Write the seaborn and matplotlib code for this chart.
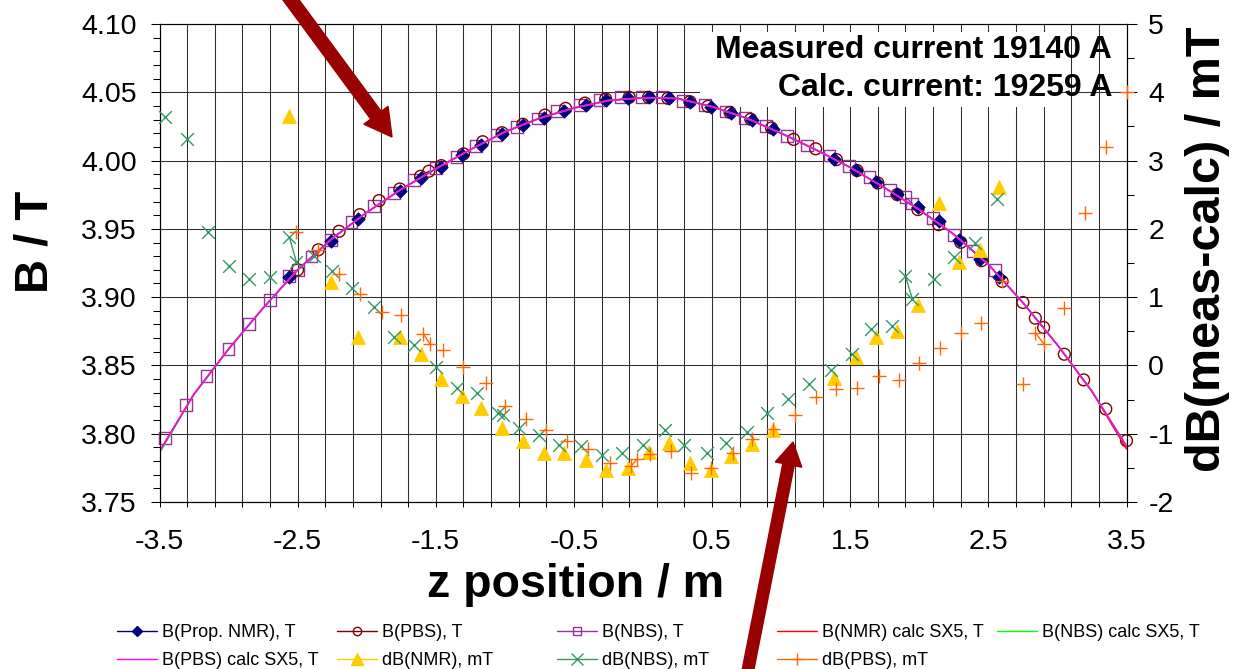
import numpy as np
import pandas as pd
import matplotlib
matplotlib.use("Agg")
import matplotlib.pyplot as plt
import seaborn as sns
from matplotlib.lines import Line2D
from matplotlib.patches import FancyArrow, Rectangle
from matplotlib.transforms import IdentityTransform
from matplotlib.ticker import FixedLocator

# ---------------- measured field B (T) ----------------
z_nmr = [-2.56, -2.26, -2.06, -1.76, -1.61, -1.46, -1.31, -1.17, -1.02, -0.87,
         -0.72, -0.57, -0.41, -0.27, -0.11, 0.04, 0.19, 0.34, 0.49, 0.64,
         0.79, 0.94, 1.38, 1.54, 1.69, 1.84, 1.99, 2.14, 2.29, 2.44, 2.58]
b_nmr = [3.915, 3.941, 3.957, 3.9775, 3.987, 3.995, 4.004, 4.0115, 4.0197, 4.026,
         4.0315, 4.0365, 4.041, 4.0443, 4.0456, 4.0463, 4.0456, 4.0426, 4.0389, 4.0350,
         4.0295, 4.0232, 4.0013, 3.9929, 3.9844, 3.9756, 3.966, 3.956, 3.942, 3.928, 3.915]

z_pbs = [-2.50, -2.35, -2.20, -2.05, -1.91, -1.76, -1.61, -1.55, -1.46, -1.30,
         -1.16, -1.02, -0.87, -0.71, -0.56, -0.42, -0.27, -0.10, 0.04, 0.18,
         0.34, 0.47, 0.63, 0.78, 0.93, 1.09, 1.25, 1.40, 1.55, 1.70,
         1.84, 1.99, 2.14, 2.30, 2.45, 2.60, 2.75, 2.84, 2.90, 3.05,
         3.19, 3.35, 3.50]
b_pbs = [3.920, 3.9347, 3.9482, 3.9604, 3.9707, 3.9792, 3.9885, 3.9922, 3.9963, 4.0049,
         4.0138, 4.0204, 4.0266, 4.0333, 4.0382, 4.0421, 4.0451, 4.0463, 4.0463, 4.0456,
         4.0431, 4.0397, 4.0352, 4.0303, 4.0239, 4.0155, 4.0086, 4.0007, 3.9927, 3.9836,
         3.9751, 3.9641, 3.9531, 3.9401, 3.9267, 3.9115, 3.8961, 3.8846, 3.8778, 3.8582,
         3.8394, 3.8181, 3.7949]

z_nbs = [-3.46, -3.31, -3.16, -3.00, -2.85, -2.70, -2.56, -2.50, -2.40, -2.26,
         -2.11, -1.95, -1.80, -1.66, -1.50, -1.35, -1.21, -1.06, -0.91, -0.76,
         -0.62, -0.46, -0.31, -0.16, -0.01, 0.14, 0.29, 0.45, 0.60, 0.74,
         0.89, 1.04, 1.19, 1.35, 1.49, 1.64, 1.79, 1.90, 1.95, 2.10,
         2.25, 2.39, 2.55]
b_nbs = [3.797, 3.821, 3.842, 3.862, 3.8804, 3.898, 3.9156, 3.920, 3.9298, 3.942,
         3.955, 3.9665, 3.9763, 3.986, 3.9946, 4.0027, 4.0106, 4.0185, 4.0246, 4.0308,
         4.0365, 4.0406, 4.0443, 4.0463, 4.0463, 4.0463, 4.0438, 4.0406, 4.0360, 4.0310,
         4.0254, 4.018, 4.011, 4.0037, 3.9958, 3.988, 3.9782, 3.9733, 3.9685, 3.958,
         3.9457, 3.9335, 3.9196]

# ---------------- calculated field, SX5 model (T) ----------------
z_calc = [-3.50, -3.25, -3.00, -2.75, -2.50, -2.25, -2.00, -1.75, -1.50, -1.25,
          -1.00, -0.75, -0.50, -0.25, 0.00, 0.25, 0.50, 0.75, 1.00, 1.25,
          1.50, 1.75, 2.00, 2.25, 2.50, 2.75, 3.00, 3.25, 3.50]
b_calc_nmr = [3.787, 3.829, 3.862, 3.892, 3.920, 3.943, 3.962, 3.979, 3.994, 4.008,
              4.021, 4.031, 4.0385, 4.044, 4.046, 4.0455, 4.0395, 4.031, 4.020, 4.008,
              3.995, 3.980, 3.964, 3.946, 3.924, 3.896, 3.865, 3.831, 3.789]
b_calc_nbs = [3.786, 3.829, 3.862, 3.892, 3.920, 3.943, 3.962, 3.979, 3.994, 4.008,
              4.021, 4.031, 4.0385, 4.044, 4.046, 4.0455, 4.0395, 4.031, 4.020, 4.008,
              3.995, 3.980, 3.964, 3.946, 3.924, 3.896, 3.865, 3.831, 3.791]
b_calc_pbs = [3.787, 3.829, 3.862, 3.892, 3.920, 3.943, 3.962, 3.979, 3.994, 4.008,
              4.021, 4.031, 4.0385, 4.044, 4.046, 4.0455, 4.0395, 4.031, 4.020, 4.008,
              3.995, 3.980, 3.964, 3.946, 3.924, 3.896, 3.865, 3.831, 3.791]

# ---------------- differences meas - calc (mT) ----------------
db_nmr = [3.65, 1.22, 0.41, 0.41, 0.17, -0.20, -0.455, -0.62, -0.92, -1.11,
          -1.28, -1.28, -1.39, -1.53, -1.50, -1.27, -1.13, -1.43, -1.53, -1.33,
          -1.15, -0.94, -0.19, 0.13, 0.42, 0.50, 0.88, 2.38, 1.51, 1.69, 2.61]

z_db_nbs = [-3.46, -3.30, -3.15, -3.00, -2.85, -2.70, -2.56, -2.51, -2.38, -2.25,
            -2.11, -1.95, -1.80, -1.66, -1.50, -1.35, -1.20, -1.05, -1.01, -0.90,
            -0.75, -0.61, -0.45, -0.30, -0.15, 0.00, 0.16, 0.30, 0.46, 0.60,
            0.75, 0.90, 1.05, 1.20, 1.36, 1.51, 1.65, 1.80, 1.90, 1.95,
            2.11, 2.25, 2.40, 2.56]
db_nbs = [3.64, 3.32, 1.96, 1.46, 1.26, 1.30, 1.88, 1.52, 1.60, 1.38,
          1.13, 0.85, 0.42, 0.30, -0.02, -0.33, -0.41, -0.70, -0.72, -0.92,
          -1.02, -1.16, -1.18, -1.31, -1.28, -1.16, -0.94, -1.16, -1.28, -1.13,
          -0.98, -0.69, -0.49, -0.27, -0.07, 0.17, 0.53, 0.58, 1.31, 0.97,
          1.26, 1.59, 1.79, 2.44]

z_db_pbs = [-2.51, -2.35, -2.20, -2.05, -1.89, -1.75, -1.59, -1.54, -1.45, -1.30,
            -1.14, -1.00, -0.85, -0.70, -0.55, -0.40, -0.24, -0.09, -0.04, 0.05,
            0.20, 0.35, 0.49, 0.65, 0.79, 0.94, 1.10, 1.25, 1.40, 1.55,
            1.71, 1.85, 2.00, 2.15, 2.30, 2.45, 2.60, 2.75, 2.84, 2.90,
            3.05, 3.20, 3.35, 3.50]
db_pbs = [1.95, 1.69, 1.34, 1.04, 0.78, 0.74, 0.46, 0.31, 0.23, -0.02,
          -0.26, -0.59, -0.78, -0.94, -1.11, -1.23, -1.43, -1.48, -1.37, -1.29,
          -1.26, -1.57, -1.50, -1.28, -1.08, -0.93, -0.73, -0.46, -0.34, -0.33,
          -0.15, -0.22, 0.04, 0.25, 0.48, 0.62, 1.23, -0.27, 0.48, 0.32,
          0.84, 2.23, 3.20, 4.00]

# ---------------- axis ticks and texts ----------------
x_tick_labels = ["-3.5", "-2.5", "-1.5", "-0.5", "0.5", "1.5", "2.5", "3.5"]
b_tick_labels = ["3.75", "3.80", "3.85", "3.90", "3.95", "4.00", "4.05", "4.10"]
db_tick_labels = ["-2", "-1", "0", "1", "2", "3", "4", "5"]
current_notes = ["Measured current 19140 A", "Calc. current: 19259 A"]

# ---------------- styling ----------------
C_NMR, C_PBS, C_NBS = "#000080", "#800000", "#993399"
C_CALC_NMR, C_CALC_NBS, C_CALC_PBS = "#FF0000", "#00FF00", "#FF00FF"
C_DNMR, C_DNBS, C_DPBS = "#FFCC00", "#339966", "#FF6600"
C_ARROW = "#990000"

sns.set_theme(style="white")
plt.rcParams["font.family"] = ["Liberation Sans", "DejaVu Sans"]
plt.rcParams["axes.unicode_minus"] = False
for key in ("text.color", "axes.labelcolor", "xtick.color", "ytick.color"):
    plt.rcParams[key] = "black"

W, H = 1234, 669
fig = plt.figure(figsize=(W / 100, H / 100), dpi=100)
fig.patch.set_facecolor("white")
ax_l, ax_r, ax_t, ax_b = 159.5, 1126.5, 24.0, 502.0
ax = fig.add_axes([ax_l / W, 1 - ax_b / H, (ax_r - ax_l) / W, (ax_b - ax_t) / H])
ax2 = ax.twinx()


def joined(z, v, gap=0.08):
    """Points closer than `gap` along z are connected by a line segment."""
    df = pd.DataFrame({"z": z, "v": v})
    df["seg"] = (df["z"].diff() > gap).cumsum()
    return df


def draw_series(axis, z, v, color, marker, size, filled, lw=1.0):
    df = joined(z, v)
    sns.lineplot(data=df, x="z", y="v", units="seg", estimator=None, sort=False,
                 color=color, linewidth=lw, ax=axis, legend=False, zorder=2)
    if filled:
        sns.scatterplot(x=z, y=v, marker=marker, s=size ** 2, color=color,
                        edgecolor=color, linewidth=0.6, ax=axis, legend=False,
                        zorder=3)
    elif marker in ("x", "+"):
        sns.scatterplot(x=z, y=v, marker=marker, s=size ** 2, color=color,
                        linewidth=1.0, ax=axis, legend=False, zorder=3)
    else:
        sns.scatterplot(x=z, y=v, marker=marker, s=size ** 2, color=color,
                        facecolors="none", edgecolor=color, linewidth=1.0,
                        ax=axis, legend=False, zorder=3)


# measured B on the left axis
draw_series(ax, z_nbs, b_nbs, C_NBS, "s", 8.5, False)
draw_series(ax, z_pbs, b_pbs, C_PBS, "o", 8.5, False)
draw_series(ax, z_nmr, b_nmr, C_NMR, "D", 6.8, True)

# calculated curves
for zc, bc, col in [(z_calc, b_calc_nmr, C_CALC_NMR),
                    (z_calc, b_calc_nbs, C_CALC_NBS),
                    (z_calc, b_calc_pbs, C_CALC_PBS)]:
    sns.lineplot(x=zc, y=bc, color=col, linewidth=1.2, ax=ax, legend=False,
                 zorder=4, sort=False)

# differences on the right axis
draw_series(ax2, z_nmr, db_nmr, C_DNMR, "^", 10.0, True)
draw_series(ax2, z_db_nbs, db_nbs, C_DNBS, "x", 9.2, False)
draw_series(ax2, z_db_pbs, db_pbs, C_DPBS, "+", 9.5, False)

# markers sitting on the frame stay whole
for a in (ax, ax2):
    for coll in a.collections:
        coll.set_clip_on(False)

# ---------------- axes ----------------
x_major = [float(s) for s in x_tick_labels]
b_major = [float(s) for s in b_tick_labels]
db_major = [float(s) for s in db_tick_labels]

ax.set_xlim(x_major[0], x_major[-1])
ax.set_ylim(b_major[0], b_major[-1])
ax2.set_ylim(db_major[0], db_major[-1])

ax.set_xticks(x_major)
ax.set_xticklabels(x_tick_labels)
ax.xaxis.set_minor_locator(FixedLocator(np.round(np.arange(x_major[0], x_major[-1] + 0.01, 0.2), 2)))
ax.set_yticks(b_major)
ax.set_yticklabels(b_tick_labels)
ax.yaxis.set_minor_locator(FixedLocator(np.round(np.arange(b_major[0], b_major[-1] + 0.001, 0.01), 3)))
ax2.set_yticks(db_major)
ax2.set_yticklabels(db_tick_labels)
ax2.yaxis.set_minor_locator(FixedLocator(np.arange(db_major[0], db_major[-1] + 0.01, 0.5)))

ax.set_xlabel("")
ax.set_ylabel("")
ax2.set_ylabel("")

ax.xaxis.grid(True, which="both", color="#2e2e2e", linewidth=0.75)
ax.yaxis.grid(True, which="major", color="#2e2e2e", linewidth=0.75)
ax.set_axisbelow(True)

ax.tick_params(axis="x", which="both", direction="out", length=3.6, width=0.75,
               color="black", bottom=True, labelsize=20.5, pad=16,
               labelcolor="black")
ax.tick_params(axis="y", which="major", direction="out", length=6.5, width=0.75,
               color="black", left=True, labelsize=20.5, pad=10,
               labelcolor="black")
ax.tick_params(axis="y", which="minor", direction="out", length=4.8, width=0.75,
               color="black", left=True)
ax2.tick_params(axis="y", which="major", direction="out", length=7.2, width=0.75,
                color="black", right=True, labelsize=20.5, pad=8.5,
                labelcolor="black")
ax2.tick_params(axis="y", which="minor", direction="out", length=5.2, width=0.75,
                color="black", right=True)

for a in (ax, ax2):
    for sp in a.spines.values():
        sp.set_color("black")
        sp.set_linewidth(0.8)
ax.spines["top"].set_color("#555555")

# white panel behind the current notes
ax.add_patch(Rectangle((700, H - 107), 350, 75, transform=IdentityTransform(),
                       facecolor="white", edgecolor="none", zorder=1))
fig.text(1112 / W, 1 - 50 / H, current_notes[0], ha="right", va="center",
         fontsize=23, fontweight="bold", color="black")
fig.text(1112 / W, 1 - 88 / H, current_notes[1], ha="right", va="center",
         fontsize=23, fontweight="bold", color="black")

# axis titles
fig.text(35 / W, 1 - 242 / H, "B / T", rotation=90, ha="center", va="center",
         fontsize=34, fontweight="bold", color="black")
fig.text(1207 / W, 1 - 249 / H, "dB(meas-calc) / mT", rotation=90, ha="center",
         va="center", fontsize=35, fontweight="bold", color="black")
fig.text(576 / W, 1 - 585 / H, "z position / m", ha="center", va="center",
         fontsize=33.5, fontweight="bold", color="black")

# ---------------- legend ----------------
handles = {
    "B(Prop. NMR), T": Line2D([], [], color=C_NMR, lw=1, marker="D", ms=5, mfc=C_NMR, mec=C_NMR),
    "B(PBS), T": Line2D([], [], color=C_PBS, lw=1, marker="o", ms=6, mfc="none", mec=C_PBS),
    "B(NBS), T": Line2D([], [], color=C_NBS, lw=1, marker="s", ms=6, mfc="none", mec=C_NBS),
    "B(NMR) calc SX5, T": Line2D([], [], color=C_CALC_NMR, lw=1),
    "B(NBS) calc SX5, T": Line2D([], [], color=C_CALC_NBS, lw=1),
    "B(PBS) calc SX5, T": Line2D([], [], color=C_CALC_PBS, lw=1),
    "dB(NMR), mT": Line2D([], [], color=C_DNMR, lw=1, marker="^", ms=8, mfc=C_DNMR, mec=C_DNMR),
    "dB(NBS), mT": Line2D([], [], color=C_DNBS, lw=1, marker="x", ms=8, mew=1),
    "dB(PBS), mT": Line2D([], [], color=C_DPBS, lw=1, marker="+", ms=9, mew=1),
}
legend_columns = [["B(Prop. NMR), T", "B(PBS) calc SX5, T"],
                  ["B(PBS), T", "dB(NMR), mT"],
                  ["B(NBS), T", "dB(NBS), mT"],
                  ["B(NMR) calc SX5, T", "dB(PBS), mT"],
                  ["B(NBS) calc SX5, T"]]
legend_x = [117, 337, 557, 777, 997]
for x0, labels in zip(legend_x, legend_columns):
    leg = fig.legend([handles[l] for l in labels], labels, loc="upper left",
                     bbox_to_anchor=(x0 / W, 1 - 624 / H), frameon=False, fontsize=13,
                     handlelength=2.2, handletextpad=0.3, labelspacing=0.6,
                     borderpad=0, borderaxespad=0)
    for t in leg.get_texts():
        t.set_color("black")

# ---------------- pointer arrows ----------------
def arrow(tail, tip, width, head_w, head_l):
    x0, y0 = tail[0], H - tail[1]
    dx, dy = tip[0] - tail[0], -(tip[1] - tail[1])
    art = FancyArrow(x0, y0, dx, dy, width=width, head_width=head_w,
                     head_length=head_l, length_includes_head=True,
                     color=C_ARROW, transform=IdentityTransform(), zorder=10)
    art.set_clip_on(False)
    fig.add_artist(art)


arrow((280, -15), (392, 137), 13, 30, 27)
arrow((745, 685), (793, 442), 11.5, 27, 23)

fig.savefig("out.png", dpi=100, facecolor="white")
